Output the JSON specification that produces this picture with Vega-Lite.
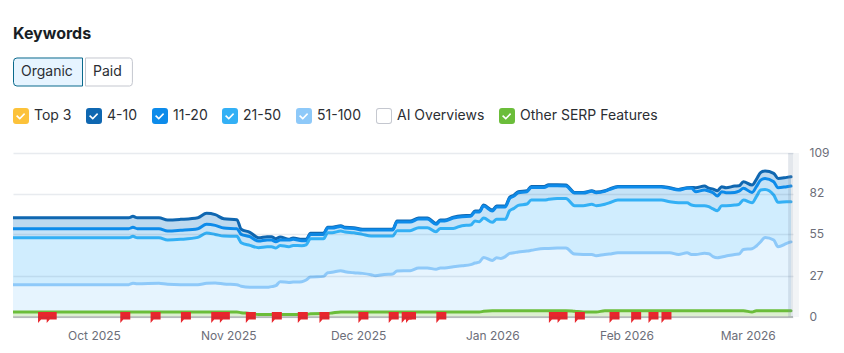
{
"$schema":"https://vega.github.io/schema/vega-lite/v6.json",
"autosize":"none","width":780,"height":164,
"padding":{"left":13,"top":153,"right":51,"bottom":36},
"background":"white",
"config":{"font":"Inter","view":{"stroke":null}},
"title":{"text":"Keywords","anchor":"start","frame":"group","fontSize":16,"fontWeight":700,"font":"Inter","color":"#181e25","offset":-5.5},
"data":{"values":[
{"d":"2025-09-12","a":66,"b":58.7,"c":52.7,"e":21.5,"g":3.3},
{"d":"2025-10-09","a":66,"b":58.7,"c":52.7,"e":21.5,"g":3.3},
{"d":"2025-10-10","a":66.9,"b":59.6,"c":53.6,"e":22.4,"g":3.3},
{"d":"2025-10-11","a":66,"b":58.7,"c":52.7,"e":22.1,"g":3.3},
{"d":"2025-10-16","a":66,"b":58.7,"c":52.7,"e":22.4,"g":3.3},
{"d":"2025-10-18","a":64.5,"b":57.1,"c":51.2,"e":21.7,"g":3.3},
{"d":"2025-10-21","a":64.9,"b":57.6,"c":51.6,"e":21.5,"g":3.3},
{"d":"2025-10-25","a":66,"b":58.7,"c":52.9,"e":21.5,"g":3.3},
{"d":"2025-10-27","a":68.9,"b":61.6,"c":55.8,"e":22.4,"g":3.3},
{"d":"2025-10-29","a":68,"b":60.9,"c":54.9,"e":22.6,"g":3.3},
{"d":"2025-10-31","a":65.3,"b":59.1,"c":53.8,"e":21.9,"g":3.3},
{"d":"2025-11-03","a":64.7,"b":58.7,"c":53.6,"e":21.5,"g":3.3},
{"d":"2025-11-04","a":58.3,"b":54.9,"c":49.4,"e":20.4,"g":2.9},
{"d":"2025-11-06","a":56.3,"b":53.4,"c":47.6,"e":19.7,"g":2.4},
{"d":"2025-11-08","a":52.7,"b":50.5,"c":46.1,"e":19.7,"g":1.6},
{"d":"2025-11-10","a":53.4,"b":51.2,"c":46.7,"e":19.7,"g":1.6},
{"d":"2025-11-11","a":53.4,"b":51.2,"c":46.7,"e":20.2,"g":1.6},
{"d":"2025-11-12","a":52,"b":50,"c":45.8,"e":20.8,"g":1.6},
{"d":"2025-11-13","a":53.2,"b":51.2,"c":47.6,"e":23.5,"g":1.6},
{"d":"2025-11-15","a":51.6,"b":51.2,"c":46.7,"e":23,"g":1.6},
{"d":"2025-11-16","a":52.5,"b":51.6,"c":47.6,"e":23.2,"g":1.6},
{"d":"2025-11-18","a":51.6,"b":50.7,"c":47.4,"e":23.5,"g":1.6},
{"d":"2025-11-19","a":51.6,"b":50.7,"c":48,"e":24.6,"g":1.6},
{"d":"2025-11-20","a":55.6,"b":54.9,"c":52,"e":26.6,"g":2.2},
{"d":"2025-11-23","a":55.6,"b":54.9,"c":52,"e":27,"g":2.4},
{"d":"2025-11-24","a":59.6,"b":59.1,"c":56,"e":29.4,"g":2.4},
{"d":"2025-11-25","a":59.6,"b":59.1,"c":56,"e":29.7,"g":2.7},
{"d":"2025-11-27","a":60.7,"b":60.2,"c":57.1,"e":30.8,"g":3.3},
{"d":"2025-11-28","a":59.6,"b":59.1,"c":56.5,"e":30.1,"g":3.3},
{"d":"2025-11-30","a":59.4,"b":58.9,"c":56,"e":29.4,"g":3.3},
{"d":"2025-12-02","a":58.3,"b":57.8,"c":54.9,"e":29,"g":3.3},
{"d":"2025-12-04","a":58.3,"b":57.8,"c":53.8,"e":28.1,"g":3.3},
{"d":"2025-12-05","a":58.3,"b":57.8,"c":53.8,"e":27.4,"g":3.3},
{"d":"2025-12-07","a":58.3,"b":57.8,"c":53.8,"e":28.3,"g":3.3},
{"d":"2025-12-09","a":58.3,"b":57.8,"c":53.8,"e":28.6,"g":3.3},
{"d":"2025-12-10","a":63.8,"b":63.1,"c":57.4,"e":30.6,"g":3.3},
{"d":"2025-12-13","a":63.8,"b":63.1,"c":57.4,"e":30.8,"g":3.3},
{"d":"2025-12-15","a":65.8,"b":65.1,"c":59.4,"e":32.6,"g":3.3},
{"d":"2025-12-17","a":65.8,"b":65.1,"c":59.4,"e":32.6,"g":3.3},
{"d":"2025-12-19","a":62.2,"b":61.6,"c":56.7,"e":31.7,"g":3.3},
{"d":"2025-12-20","a":64.4,"b":63.8,"c":58.9,"e":32.6,"g":3.3},
{"d":"2025-12-21","a":64.4,"b":63.8,"c":58.9,"e":32.6,"g":3.3},
{"d":"2025-12-23","a":66.4,"b":65.8,"c":58.9,"e":33.4,"g":3.3},
{"d":"2025-12-25","a":67.3,"b":66.7,"c":60.7,"e":34.1,"g":3.3},
{"d":"2025-12-27","a":67.5,"b":66.9,"c":61.1,"e":34.8,"g":3.3},
{"d":"2025-12-28","a":70.4,"b":69.8,"c":63.8,"e":35.9,"g":3.3},
{"d":"2025-12-29","a":70.4,"b":69.8,"c":63.3,"e":36.5,"g":3.3},
{"d":"2025-12-30","a":74.4,"b":73.7,"c":65.8,"e":39.6,"g":3.8},
{"d":"2026-01-01","a":71.1,"b":70.4,"c":62.9,"e":37.6,"g":4.2},
{"d":"2026-01-02","a":73.7,"b":73.1,"c":64.9,"e":39.4,"g":4.2},
{"d":"2026-01-03","a":73.7,"b":73.1,"c":64.9,"e":38.9,"g":4.2},
{"d":"2026-01-04","a":73.7,"b":73.1,"c":64.9,"e":40.1,"g":4.2},
{"d":"2026-01-05","a":79.5,"b":78.8,"c":70.6,"e":42.3,"g":4.2},
{"d":"2026-01-06","a":81,"b":80.4,"c":72.2,"e":42.7,"g":4.2},
{"d":"2026-01-07","a":83.3,"b":82.6,"c":74.2,"e":43.2,"g":4.2},
{"d":"2026-01-09","a":83.9,"b":83.3,"c":75.1,"e":43.8,"g":4.2},
{"d":"2026-01-10","a":86.8,"b":86.1,"c":77.7,"e":44.3,"g":4.2},
{"d":"2026-01-13","a":86.8,"b":86.1,"c":77.7,"e":45.6,"g":4.2},
{"d":"2026-01-14","a":87.9,"b":87.2,"c":78.2,"e":45.6,"g":4.2},
{"d":"2026-01-16","a":87.9,"b":87.2,"c":78.8,"e":45.8,"g":4.2},
{"d":"2026-01-18","a":87.7,"b":87,"c":78.8,"e":45.8,"g":4.2},
{"d":"2026-01-20","a":82.8,"b":82.4,"c":74,"e":41.8,"g":3.8},
{"d":"2026-01-22","a":82.8,"b":82.4,"c":74,"e":41.6,"g":3.3},
{"d":"2026-01-24","a":83.9,"b":83.5,"c":74.9,"e":41.6,"g":3.3},
{"d":"2026-01-25","a":83,"b":82.6,"c":74,"e":40.7,"g":3.3},
{"d":"2026-01-27","a":83.9,"b":83.5,"c":74.9,"e":41.6,"g":4.2},
{"d":"2026-01-28","a":85,"b":84.6,"c":75.9,"e":41.8,"g":4.2},
{"d":"2026-01-30","a":86.8,"b":86.4,"c":77.7,"e":42.7,"g":4.2},
{"d":"2026-02-09","a":86.8,"b":86.4,"c":77.7,"e":42.7,"g":4.2},
{"d":"2026-02-11","a":85.9,"b":85.5,"c":76.6,"e":42.7,"g":4.2},
{"d":"2026-02-13","a":84.8,"b":84.4,"c":75.9,"e":41.6,"g":4.2},
{"d":"2026-02-15","a":85.9,"b":85.5,"c":75.9,"e":42.7,"g":4.2},
{"d":"2026-02-16","a":86.1,"b":85.5,"c":74.4,"e":41.6,"g":4.2},
{"d":"2026-02-17","a":85.9,"b":83.3,"c":74,"e":41.6,"g":4.2},
{"d":"2026-02-19","a":87,"b":84.4,"c":74,"e":42.3,"g":4.2},
{"d":"2026-02-20","a":85.7,"b":83.7,"c":73.3,"e":42.1,"g":4.2},
{"d":"2026-02-21","a":85,"b":82.6,"c":71.8,"e":40.1,"g":4.2},
{"d":"2026-02-22","a":83.9,"b":80.4,"c":70.6,"e":39.4,"g":4.2},
{"d":"2026-02-23","a":86.6,"b":83.3,"c":74,"e":39.9,"g":4.2},
{"d":"2026-02-24","a":85.9,"b":82.6,"c":74,"e":40.5,"g":4.2},
{"d":"2026-02-26","a":87,"b":82.8,"c":74.4,"e":41.6,"g":4.2},
{"d":"2026-02-27","a":87.2,"b":83.7,"c":74.9,"e":41.8,"g":4.2},
{"d":"2026-02-28","a":89.9,"b":85.5,"c":77.7,"e":44.9,"g":4.2},
{"d":"2026-03-02","a":87.7,"b":82.8,"c":75.9,"e":45.4,"g":3.3},
{"d":"2026-03-03","a":91.5,"b":86.6,"c":80,"e":47.2,"g":4.2},
{"d":"2026-03-04","a":96.1,"b":91,"c":84.4,"e":50,"g":4.2},
{"d":"2026-03-05","a":97,"b":92.1,"c":84.8,"e":52.9,"g":4.2},
{"d":"2026-03-07","a":95.5,"b":89.9,"c":81.1,"e":51.2,"g":4.2},
{"d":"2026-03-08","a":92.1,"b":85.9,"c":76.2,"e":46.7,"g":4.2},
{"d":"2026-03-10","a":92.8,"b":86.6,"c":76.6,"e":48.9,"g":4.2},
{"d":"2026-03-11","a":93.2,"b":87,"c":76.6,"e":49.9,"g":4.2}
]},
"layer":[
{"mark":{"type":"area","color":"#bdd9ef","interpolate":"monotone","clip":true},
"encoding":{
"x":{"field":"d","type":"temporal","scale":{"type":"utc","domain":["2025-09-12T07:00:00Z","2026-03-11T11:00:00Z"]},"axis":{"title":null,"grid":false,"domain":false,"ticks":false,"format":"%b %Y","tickCount":{"interval":"month","step":1},"labelFont":"Inter","labelFontSize":12,"labelColor":"#6c6e79","labelPadding":13,"labelFlush":false,"labelOverlap":false}},
"y":{"field":"a","type":"quantitative","stack":null,"scale":{"domain":[0,109],"nice":false},"axis":{"orient":"right","zindex":1,"title":null,"values":[0,27,55,82,109],"domain":false,"ticks":false,"grid":true,"gridColor":"#2a4a70","gridOpacity":0.11,"gridWidth":1.5,"labelFont":"Inter","labelFontSize":12,"labelColor":"#6c6e79","labelPadding":16,"labelAlign":"left","labelOffset":-1}},
"y2":{"datum":0}
}},
{"mark":{"type":"area","color":"#c6e3f7","interpolate":"monotone","clip":true},"encoding":{"x":{"field":"d","type":"temporal"},"y":{"field":"b","type":"quantitative"},"y2":{"datum":0}}},
{"mark":{"type":"area","color":"#d0edfe","interpolate":"monotone","clip":true},"encoding":{"x":{"field":"d","type":"temporal"},"y":{"field":"c","type":"quantitative"},"y2":{"datum":0}}},
{"mark":{"type":"area","color":"#e6f4fe","interpolate":"monotone","clip":true},"encoding":{"x":{"field":"d","type":"temporal"},"y":{"field":"e","type":"quantitative"},"y2":{"datum":0}}},
{"mark":{"type":"area","color":"#dcf0d0","interpolate":"monotone","clip":true},"encoding":{"x":{"field":"d","type":"temporal"},"y":{"field":"g","type":"quantitative"},"y2":{"datum":0}}},
{"data":{"values":[{"v":0}]},"mark":{"type":"rule","color":"#c6cac4","strokeWidth":2},"encoding":{"y":{"field":"v","type":"quantitative"}}},
{"transform":[{"fold":["a","b","c","e","g"],"as":["k","v"]},{"lookup":"k","from":{"data":{"values":[{"k":"a","series":"4-10"},{"k":"b","series":"11-20"},{"k":"c","series":"21-50"},{"k":"e","series":"51-100"},{"k":"g","series":"Other SERP Features"}]},"key":"k","fields":["series"]}}],
"mark":{"type":"line","strokeWidth":3,"interpolate":"monotone","clip":true,"strokeCap":"round","strokeJoin":"round"},
"encoding":{"x":{"field":"d","type":"temporal"},"y":{"field":"v","type":"quantitative"},"color":{"field":"series","type":"nominal","scale":{"domain":["Top 3","4-10","11-20","21-50","51-100","AI Overviews","Other SERP Features"],"range":["#fcc23a","#0f67b1","#0d8bea","#33b0f5","#8ec9f9","#c4c7cf","#6bbd3a"]},
"legend":{"orient":"none","legendX":0,"legendY":-45,"direction":"horizontal","columns":7,"columnPadding":14,"title":null,"symbolSize":256,"labelFont":"Inter","labelFontSize":14,"labelColor":"#2b2e33","labelOffset":5,"labelLimit":200,
"encode":{"symbols":{"update":{"fill":{"signal":"scale('color',datum.value)"},"stroke":{"value":"transparent"},"strokeWidth":{"value":0},"shape":{"signal":"datum.value==='AI Overviews' ? 'M-0.62,-1H0.62Q1,-1 1,-0.62V0.62Q1,1 0.62,1H-0.62Q-1,1 -1,0.62V-0.62Q-1,-1 -0.62,-1Z M-0.62,-0.88Q-0.88,-0.88 -0.88,-0.62V0.62Q-0.88,0.88 -0.62,0.88H0.62Q0.88,0.88 0.88,0.62V-0.62Q0.88,-0.88 0.62,-0.88Z' : 'M-0.62,-1H0.62Q1,-1 1,-0.62V0.62Q1,1 0.62,1H-0.62Q-1,1 -1,0.62V-0.62Q-1,-1 -0.62,-1Z M-0.62,0.02L-0.15,0.46L0.52,-0.22L0.38,-0.36L-0.15,0.18L-0.48,-0.12Z'"}}}}}}
}},
{"data":{"values":[{"s":"2026-03-10T08:00:00Z","t":"2026-03-11T11:00:00Z","o":0.22},{"s":"2026-03-11T11:00:00Z","t":"2026-03-12T20:00:00Z","o":0.1}]},
"mark":{"type":"rect","color":"#7f93a8"},
"encoding":{"x":{"field":"s","type":"temporal"},"x2":{"field":"t"},"opacity":{"field":"o","type":"quantitative","scale":null,"legend":null}}},
{"data":{"values":[{"f":"2025-09-19"},{"f":"2025-09-21"},{"f":"2025-10-08"},{"f":"2025-10-15"},{"f":"2025-10-22"},{"f":"2025-10-29"},{"f":"2025-10-31"},{"f":"2025-11-06"},{"f":"2025-11-12"},{"f":"2025-11-18"},{"f":"2025-11-23"},{"f":"2025-12-02"},{"f":"2025-12-09"},{"f":"2025-12-12"},{"f":"2025-12-13"},{"f":"2025-12-20"},{"f":"2026-01-15"},{"f":"2026-01-17"},{"f":"2026-01-21"},{"f":"2026-01-29"},{"f":"2026-02-03"},{"f":"2026-02-07"},{"f":"2026-02-10"}]},
"mark":{"type":"point","filled":true,"size":100,"color":"#e8262d","opacity":1,"shape":"M-0.8,-1H1.2V0.5H-0.2L-0.8,1.2Z"},
"encoding":{"x":{"field":"f","type":"temporal"},"y":{"datum":0}}},
{"data":{"values":[{"tab":"Organic","d":"2025-10-01","v":0}]},
"transform":[{"filter":"false"}],
"mark":{"type":"line"},
"encoding":{
"x":{"field":"d","type":"temporal"},"y":{"field":"v","type":"quantitative"},
"stroke":{"field":"tab","type":"nominal","scale":{"domain":["Organic","Paid"],"range":["#0a6a8c","#c4c7cf"]},"legend":{"orient":"none","legendX":0,"legendY":-116.5,"direction":"horizontal","columns":2,"columnPadding":-5,"title":null,"symbolSize":4761,"labelFont":"Inter","labelFontSize":14,"labelColor":"#2b2e33","labelOffset":-62,
"encode":{"symbols":{"update":{"strokeWidth":{"value":1},"fill":{"signal":"datum.value==='Organic' ? '#e6f4ff' : '#ffffff'"},"shape":{"signal":"datum.value==='Organic' ? 'M-0.9,-0.406H1V0.406H-0.9Q-1,0.406 -1,0.3V-0.3Q-1,-0.406 -0.9,-0.406Z' : 'M-1,-0.406H0.28Q0.36,-0.406 0.36,-0.3V0.3Q0.36,0.406 0.28,0.406H-1Z'"}}}}}}
}}
]}
